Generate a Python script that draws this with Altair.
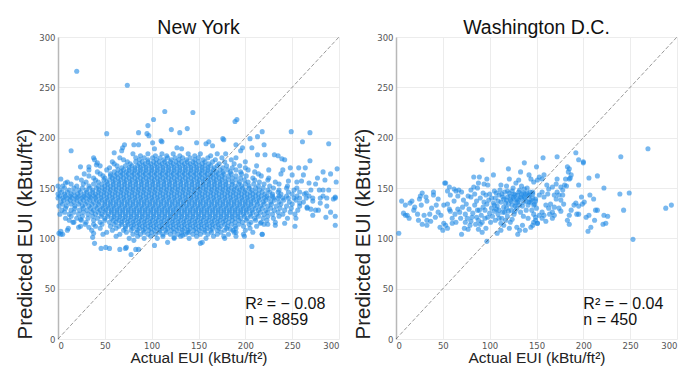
import altair as alt
import pandas as pd

BLUE = "#1e88e5"
TICKS = [0, 50, 100, 150, 200, 250, 300]
DIAG = [0, 300]

# New York: dense core, read as rows of (predicted EUI, [actual EUI ...])
NY_ROWS = [
    (184, [80, 96, 111, 123, 139, 152, 170]),
    (182, [88, 104, 116, 130, 146, 163]),
    (180, [66, 83, 92, 101, 109, 117, 125, 133, 141, 150, 160, 175, 190]),
    (178, [70, 87, 96, 105, 113, 121, 129, 137, 146, 155, 168, 185]),
    (176, [58, 74, 83, 90, 96, 102, 108, 114, 120, 126, 132, 138, 144, 150, 157, 165, 178, 200]),
    (174, [60, 77, 87, 93, 99, 105, 111, 117, 123, 129, 135, 141, 147, 154, 161, 172, 188]),
    (172, [45, 63, 72, 79, 85, 91, 97, 103, 109, 115, 121, 127, 133, 139, 145, 151, 157, 163, 170, 180, 194, 212]),
    (170, [55, 68, 76, 82, 88, 94, 100, 106, 112, 118, 124, 130, 136, 142, 148, 154, 160, 167, 176, 186, 200]),
    (168, [33, 52, 64, 70, 76, 82, 88, 94, 100, 106, 112, 118, 124, 130, 136, 142, 148, 154, 160, 166, 173, 181, 190, 203, 225]),
    (166, [42, 60, 67, 73, 79, 85, 91, 97, 103, 109, 115, 121, 127, 133, 139, 145, 151, 157, 163, 169, 176, 184, 195, 210]),
    (164, [28, 45, 56, 63, 69, 75, 81, 87, 93, 99, 105, 111, 117, 123, 129, 135, 141, 147, 153, 159, 165, 171, 177, 185, 196, 214, 238]),
    (162, [33, 48, 56, 61, 67, 73, 79, 85, 91, 97, 103, 109, 115, 121, 127, 133, 139, 145, 151, 157, 163, 169, 175, 182, 190, 201, 217]),
    (160, [20, 38, 50, 58, 64, 70, 76, 82, 88, 94, 100, 106, 112, 118, 124, 130, 136, 142, 148, 154, 160, 166, 172, 178, 186, 195, 208, 225]),
    (158, [25, 40, 49, 55, 61, 67, 73, 79, 85, 91, 97, 103, 109, 115, 121, 127, 133, 139, 145, 151, 157, 163, 169, 175, 182, 190, 199, 210, 224]),
    (156, [10, 30, 43, 52, 59, 65, 71, 77, 83, 89, 95, 101, 107, 113, 119, 125, 131, 137, 143, 149, 155, 161, 167, 173, 179, 186, 194, 203, 215, 232, 255]),
    (154, [14, 27, 38, 47, 53, 59, 65, 71, 77, 83, 89, 95, 101, 107, 113, 119, 125, 131, 137, 143, 149, 155, 161, 167, 173, 179, 186, 193, 200, 209, 220, 236]),
    (152, [5, 20, 33, 43, 50, 56, 62, 68, 74, 80, 86, 92, 98, 104, 110, 116, 122, 128, 134, 140, 146, 152, 158, 164, 170, 176, 182, 189, 196, 204, 214, 226, 245]),
    (150, [7, 17, 26, 34, 41, 47, 53, 59, 65, 71, 77, 83, 89, 95, 101, 107, 113, 119, 125, 131, 137, 143, 149, 155, 161, 167, 173, 179, 185, 191, 197, 204, 211, 219, 230, 244]),
    (148, [2, 12, 22, 30, 37, 44, 50, 56, 62, 68, 74, 80, 86, 92, 98, 104, 110, 116, 122, 128, 134, 140, 146, 152, 158, 164, 170, 176, 182, 188, 194, 200, 207, 215, 224, 236, 252, 270]),
    (146, [4, 10, 17, 24, 31, 37, 43, 49, 55, 61, 67, 73, 79, 85, 91, 97, 103, 109, 115, 121, 127, 133, 139, 145, 151, 157, 163, 169, 175, 181, 187, 193, 199, 205, 211, 218, 226, 235, 246, 258]),
    (144, [0, 7, 14, 21, 28, 34, 40, 46, 52, 58, 64, 70, 76, 82, 88, 94, 100, 106, 112, 118, 124, 130, 136, 142, 148, 154, 160, 166, 172, 178, 184, 190, 196, 202, 208, 214, 221, 229, 238, 250, 263]),
    (142, [2, 8, 13, 18, 23, 28, 33, 38, 43, 49, 55, 61, 67, 73, 79, 85, 91, 97, 103, 109, 115, 121, 127, 133, 139, 145, 151, 157, 163, 169, 175, 181, 187, 193, 199, 205, 211, 217, 223, 229, 236, 244, 255, 268, 283]),
    (140, [0, 5, 10, 15, 20, 25, 30, 35, 40, 46, 52, 58, 64, 70, 76, 82, 88, 94, 100, 106, 112, 118, 124, 130, 136, 142, 148, 154, 160, 166, 172, 178, 184, 190, 196, 202, 208, 214, 220, 225, 230, 235, 240, 246, 252, 258, 265, 272, 280, 287, 296]),
    (138, [6, 13, 20, 27, 34, 41, 47, 53, 59, 65, 71, 77, 83, 89, 95, 101, 107, 113, 119, 125, 131, 137, 143, 149, 155, 161, 167, 173, 179, 185, 191, 197, 203, 209, 215, 222, 231, 241, 254]),
    (136, [3, 10, 17, 24, 31, 38, 44, 50, 56, 62, 68, 74, 80, 86, 92, 98, 104, 110, 116, 122, 128, 134, 140, 146, 152, 158, 164, 170, 176, 182, 188, 194, 200, 206, 212, 219, 227, 236, 247, 262]),
    (134, [5, 14, 22, 29, 36, 43, 50, 56, 62, 68, 74, 80, 86, 92, 98, 104, 110, 116, 122, 128, 134, 140, 146, 152, 158, 164, 170, 176, 182, 188, 194, 200, 206, 213, 220, 228, 238, 250]),
    (132, [1, 9, 18, 26, 33, 40, 47, 53, 59, 65, 71, 77, 83, 89, 95, 101, 107, 113, 119, 125, 131, 137, 143, 149, 155, 161, 167, 173, 179, 185, 191, 197, 203, 209, 216, 224, 233, 244, 258]),
    (130, [8, 18, 27, 35, 42, 48, 54, 60, 66, 72, 78, 84, 90, 96, 102, 108, 114, 120, 126, 132, 138, 144, 150, 156, 162, 168, 174, 180, 186, 192, 198, 204, 211, 218, 227, 237, 249, 266]),
    (128, [4, 14, 23, 31, 38, 45, 51, 57, 63, 69, 75, 81, 87, 93, 99, 105, 111, 117, 123, 129, 135, 141, 147, 153, 159, 165, 171, 177, 183, 189, 195, 201, 207, 214, 222, 231, 242, 256, 275]),
    (126, [7, 17, 27, 36, 43, 50, 57, 63, 69, 75, 81, 87, 93, 99, 105, 111, 117, 123, 129, 135, 141, 147, 153, 159, 165, 171, 177, 183, 189, 195, 201, 208, 216, 224, 235, 248]),
    (124, [2, 12, 22, 32, 40, 47, 54, 60, 66, 72, 78, 84, 90, 96, 102, 108, 114, 120, 126, 132, 138, 144, 150, 156, 162, 168, 174, 180, 186, 192, 198, 205, 212, 220, 229, 240, 253]),
    (122, [14, 26, 37, 46, 53, 60, 66, 72, 78, 84, 90, 96, 102, 108, 114, 120, 126, 132, 138, 144, 150, 156, 162, 168, 174, 180, 186, 192, 199, 206, 214, 224, 236]),
    (120, [8, 20, 32, 42, 50, 57, 63, 69, 75, 81, 87, 93, 99, 105, 111, 117, 123, 129, 135, 141, 147, 153, 159, 165, 171, 177, 183, 189, 195, 202, 210, 219, 230, 245]),
    (118, [12, 25, 38, 50, 59, 65, 71, 77, 83, 89, 95, 101, 107, 113, 119, 125, 131, 137, 143, 149, 155, 161, 167, 173, 179, 186, 193, 201, 211, 223]),
    (116, [16, 30, 45, 55, 62, 68, 74, 80, 86, 92, 98, 104, 110, 116, 122, 128, 134, 140, 146, 152, 158, 164, 170, 176, 182, 189, 197, 206, 217, 232]),
    (114, [29, 47, 60, 68, 75, 81, 87, 93, 99, 105, 111, 117, 123, 129, 135, 141, 147, 153, 159, 165, 171, 178, 185, 193, 204, 220]),
    (112, [24, 40, 56, 65, 72, 78, 84, 90, 96, 102, 108, 114, 120, 126, 132, 138, 144, 150, 156, 162, 168, 174, 181, 189, 198, 212]),
    (110, [45, 62, 72, 80, 87, 93, 99, 105, 111, 117, 123, 129, 135, 141, 147, 153, 159, 165, 172, 180, 190, 205]),
    (108, [10, 36, 58, 70, 78, 85, 91, 97, 103, 109, 115, 121, 127, 133, 139, 145, 151, 157, 163, 170, 178, 187, 200]),
    (106, [52, 73, 84, 92, 100, 108, 116, 124, 132, 140, 148, 156, 164, 174, 188, 208]),
    (104, [3, 48, 66, 80, 88, 96, 104, 112, 120, 128, 136, 144, 152, 160, 170, 182, 198, 218]),
    (102, [62, 85, 99, 112, 131, 148, 166, 190]),
    (100, [76, 92, 106, 124, 140, 158, 178]),
]

# New York: scattered points outside the core (actual, predicted)
NY_OUTLIERS = [
    (20, 266), (74, 252), (114, 226), (144, 225), (102, 218), (189, 216), (191, 218), (52, 204),
    (121, 208), (96, 212), (86, 205), (95, 204), (97, 202), (130, 205), (138, 209), (14, 187),
    (24, 171), (38, 180), (39, 178), (33, 171), (41, 173), (42, 175), (60, 185), (69, 190),
    (71, 193), (68, 187), (81, 193), (86, 193), (101, 195), (103, 189), (110, 197), (111, 196),
    (127, 190), (132, 189), (148, 195), (158, 194), (161, 196), (165, 192), (176, 199), (177, 198),
    (190, 193), (195, 187), (197, 190), (179, 184), (205, 199), (207, 190), (213, 201), (218, 206),
    (220, 193), (213, 183), (221, 183), (231, 183), (235, 182), (239, 179), (242, 178), (249, 206),
    (261, 196), (269, 205), (289, 194), (269, 177), (248, 170), (240, 168), (257, 170), (264, 170),
    (283, 166), (291, 164), (298, 169), (277, 160), (246, 157), (260, 157), (268, 155), (275, 154),
    (279, 148), (283, 148), (289, 148), (296, 141), (294, 139), (266, 131), (270, 129), (286, 121),
    (296, 122), (296, 113), (272, 123), (254, 120), (253, 112), (242, 115), (232, 113), (224, 114),
    (216, 115), (207, 92), (184, 109), (190, 106), (177, 102), (199, 102), (218, 104), (152, 95),
    (154, 96), (133, 103), (138, 106), (124, 101), (103, 93), (117, 96), (86, 89), (78, 84),
    (73, 91), (66, 89), (72, 90), (81, 98), (83, 89), (55, 90), (51, 91), (46, 90),
    (39, 95), (37, 101), (38, 105), (33, 111), (38, 114), (22, 111), (17, 116), (24, 119),
    (11, 110), (3, 107), (1, 105), (5, 104), (3, 159), (0, 152), (8, 155), (258, 135),
    (265, 145), (272, 137), (280, 135), (287, 132), (291, 126), (278, 128), (255, 150), (262, 163),
    (250, 163), (285, 158), (297, 156),
]

# Washington D.C. (actual, predicted)
DC_POINTS = [
    (3, 105), (6, 137), (10, 133), (8, 125), (12, 123), (14, 120), (10, 123), (17, 137), (25, 139),
    (26, 142), (32, 141), (33, 137), (27, 133), (19, 128), (23, 124), (28, 145), (30, 123), (33, 118),
    (28, 114), (33, 113), (37, 117), (40, 146), (40, 143), (45, 126), (43, 133), (48, 123), (51, 133),
    (55, 134), (53, 155), (57, 151), (62, 149), (52, 155), (55, 147), (51, 115), (53, 113), (55, 110),
    (50, 108), (60, 120), (58, 143), (57, 129), (66, 129), (62, 137), (60, 115), (64, 116), (67, 148),
    (58, 127), (45, 139), (38, 130), (20, 131), (15, 135), (36, 124), (42, 121), (47, 111), (24, 118),
    (70, 104), (77, 109), (72, 138), (75, 134), (78, 129), (80, 141), (80, 148), (83, 151), (83, 161),
    (89, 161), (87, 150), (92, 178), (94, 154), (98, 153), (97, 159), (73, 110), (74, 124), (69, 120),
    (64, 147), (66, 142), (70, 146), (84, 133), (82, 125), (86, 121), (88, 118), (90, 114), (92, 116),
    (95, 120), (95, 128), (89, 128), (93, 131), (86, 137), (90, 140), (96, 143), (100, 144), (99, 138),
    (97, 134), (85, 114), (80, 117), (76, 120), (79, 113), (96, 110), (97, 97), (92, 106), (88, 109),
    (100, 125), (98, 121), (101, 116), (84, 144), (77, 142), (71, 131), (68, 126), (63, 124), (74, 116),
    (91, 123), (94, 136), (87, 128), (81, 121), (93, 145), (88, 155),
    (104, 163), (105, 147), (110, 143), (112, 153), (118, 152), (121, 159), (120, 169), (131, 158),
    (133, 166), (137, 175), (142, 163), (144, 159), (147, 156), (151, 158), (150, 171), (108, 105),
    (112, 108), (115, 113), (121, 110), (122, 116), (129, 111), (130, 104), (132, 108), (135, 113),
    (138, 108), (144, 111), (149, 118), (151, 115), (102, 130), (104, 135), (106, 140), (108, 132),
    (110, 128), (112, 136), (114, 141), (116, 146), (118, 138), (120, 134), (122, 142), (124, 147),
    (126, 139), (128, 135), (130, 143), (132, 148), (134, 140), (136, 136), (138, 144), (140, 150),
    (142, 142), (144, 138), (146, 146), (148, 134), (103, 122), (106, 118), (109, 124), (113, 120),
    (116, 126), (119, 122), (123, 128), (126, 124), (129, 130), (133, 126), (136, 122), (139, 128),
    (141, 133), (145, 128), (147, 124), (150, 130), (107, 145), (111, 148), (115, 131), (117, 135),
    (121, 145), (125, 150), (127, 143), (131, 138), (135, 132), (137, 149), (139, 137), (143, 146),
    (127, 132), (123, 137), (119, 141), (131, 146), (134, 152), (128, 155), (117, 118), (124, 119),
    (112, 115), (105, 127), (109, 137), (141, 120), (146, 140), (149, 137), (125, 141), (133, 141),
    (115, 139), (120, 127), (138, 140), (102, 140), (113, 144), (129, 139), (136, 145), (142, 136),
    (105, 133), (118, 130), (127, 127), (140, 145), (110, 120), (122, 138), (126, 144), (130, 136),
    (134, 144), (124, 133), (132, 133), (137, 141), (119, 147), (114, 126), (107, 129),
    (142, 143), (146, 144), (144, 136), (149, 139), (147, 133), (153, 143), (156, 146), (158, 141),
    (162, 144), (163, 149), (167, 151), (169, 143), (171, 139), (172, 146), (174, 143), (176, 138),
    (178, 143), (179, 134), (165, 134), (163, 130), (167, 126), (169, 131), (174, 130), (160, 133),
    (156, 126), (153, 123), (149, 121), (147, 116), (151, 115), (146, 113), (156, 120), (158, 123),
    (167, 120), (169, 123), (164, 124), (161, 153), (156, 159), (153, 161), (158, 163), (171, 154),
    (172, 159), (176, 151), (178, 148), (185, 159), (186, 160), (183, 171), (185, 169), (184, 166),
    (187, 163), (181, 159), (182, 152), (180, 153), (200, 175), (206, 160), (215, 162), (195, 153),
    (222, 150), (239, 144), (249, 145), (243, 128), (288, 130), (294, 133), (253, 99), (207, 143),
    (211, 139), (198, 141), (199, 134), (192, 135), (195, 132), (201, 136), (195, 124), (185, 123),
    (187, 128), (190, 133), (206, 123), (213, 128), (215, 128), (212, 118), (222, 123), (226, 122),
    (221, 114), (224, 115), (208, 111), (205, 107), (203, 121), (185, 114), (192, 185), (195, 178),
    (200, 176), (172, 181), (157, 180), (269, 189), (240, 181), (193, 124), (183, 118), (160, 117),
    (176, 127),
]

NY_TEXT = ["R² = − 0.08", "n = 8859"]
DC_TEXT = ["R² = − 0.04", "n = 450"]

ny_pts = [(x, y) for y, xs in NY_ROWS for x in xs] + NY_OUTLIERS
ny_df = pd.DataFrame(ny_pts, columns=["x", "y"])
dc_df = pd.DataFrame(DC_POINTS, columns=["x", "y"])
diag_df = pd.DataFrame({"x": DIAG, "y": DIAG})

ANN_X = 200
ANN_Y = [30, 14]
FONT = "Liberation Sans"


def enc_x():
    return alt.X("x:Q", scale=alt.Scale(domain=[0, 300], nice=False, zero=False),
                 axis=alt.Axis(values=TICKS, title="Actual EUI (kBtu/ft²)", titleFontSize=15.5,
                               titlePadding=1, labelPadding=2, domain=False))


def enc_y():
    return alt.Y("y:Q", scale=alt.Scale(domain=[0, 300], nice=False, zero=False),
                 axis=alt.Axis(values=TICKS, title="Predicted EUI (kBtu/ft²)", titleFontSize=20.5,
                               titlePadding=3, labelPadding=3, titleAnchor="start",
                               domain=True, domainColor="#b8b8b8", domainWidth=1.5,
                               minExtent=20, maxExtent=20))


def panel(df, title, texts):
    pts = alt.Chart(df).mark_circle(size=26, opacity=0.6, color=BLUE).encode(x=enc_x(), y=enc_y())
    line = alt.Chart(diag_df).mark_line(color="#000000", opacity=0.4, strokeWidth=1,
                                        strokeDash=[4, 2]).encode(x=enc_x(), y=enc_y())
    ann_df = pd.DataFrame({"t": texts, "x": [ANN_X, ANN_X], "y": ANN_Y})
    txt = alt.Chart(ann_df).mark_text(align="left", baseline="alphabetic", fontSize=16,
                                      font=FONT, color="#111111").encode(
        x=enc_x(), y=enc_y(), text="t:N")
    return alt.layer(pts, line, txt).properties(
        width=281, height=302,
        title=alt.TitleParams(title, fontSize=19.5, fontWeight="normal", font=FONT,
                              color="#111111", offset=-5))


chart = alt.hconcat(
    panel(ny_df, "New York", NY_TEXT),
    panel(dc_df, "Washington D.C.", DC_TEXT),
    spacing=12,
).properties(
    padding={"left": 15, "top": 17, "right": 0, "bottom": 0}
).configure_view(stroke=None).configure_axis(
    grid=True, gridColor="#ececec", gridWidth=1, ticks=False,
    labelFont="DejaVu Sans", labelFontSize=8.5, labelColor="#555555",
    titleFont=FONT, titleFontWeight="normal", titleColor="#222222",
)

chart.save("out.html", embed_options={"renderer": "svg", "actions": False})
